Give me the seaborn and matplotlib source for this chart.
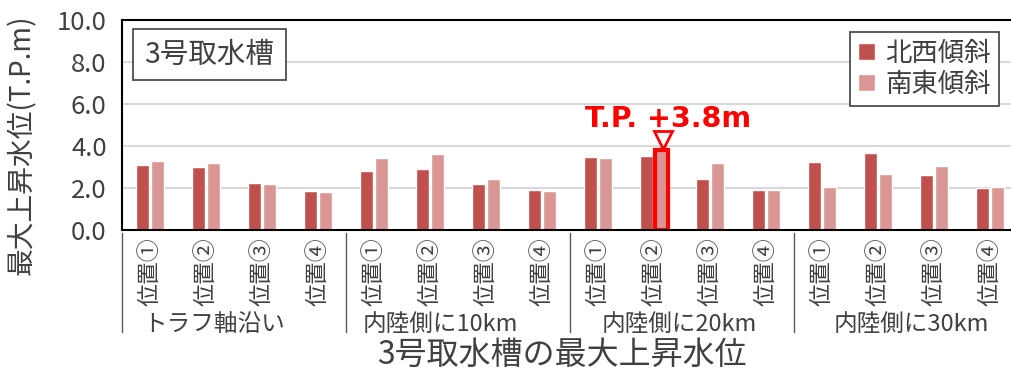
import matplotlib
matplotlib.use("Agg")
import matplotlib.pyplot as plt
import matplotlib.transforms as mtransforms
from matplotlib.patches import Rectangle
import numpy as np
import pandas as pd
import seaborn as sns

# --- data -------------------------------------------------------------
groups = ["トラフ軸沿い", "内陸側に10km", "内陸側に20km", "内陸側に30km"]
positions = ["位置①", "位置②", "位置③", "位置④"]
series = ["北西傾斜", "南東傾斜"]
nw_values = [3.07, 2.96, 2.20, 1.82,
             2.80, 2.87, 2.18, 1.90,
             3.44, 3.50, 2.39, 1.87,
             3.21, 3.66, 2.60, 1.98]
se_values = [3.26, 3.15, 2.17, 1.77,
             3.40, 3.60, 2.39, 1.83,
             3.39, 3.80, 3.15, 1.88,
             2.02, 2.64, 3.02, 2.01]
y_ticks = [0.0, 2.0, 4.0, 6.0, 8.0, 10.0]
highlight_group, highlight_pos, highlight_series = "内陸側に20km", "位置②", "南東傾斜"
highlight_label = "T.P. +3.8m"
panel_title = "3号取水槽"
y_label = "最大上昇水位(T.P.m)"
x_title = "3号取水槽の最大上昇水位"

colors = ["#C0504D", "#D99694"]
text_color = "#404040"

# --- table ------------------------------------------------------------
slots = [f"{g}|{p}" for g in groups for p in positions]
df = pd.DataFrame({
    "slot": slots * 2,
    "series": [series[0]] * len(slots) + [series[1]] * len(slots),
    "value": nw_values + se_values,
})

sns.set_style("white")
plt.rcParams["font.family"] = ["Noto Sans CJK JP", "DejaVu Sans"]

W, H = 1011, 372
fig = plt.figure(figsize=(W / 100, H / 100), dpi=100)
ax_left, ax_right, ax_top, ax_bottom = 122, 1018, 19.5, 229.5
ax = fig.add_axes([ax_left / W, 1 - ax_bottom / H,
                   (ax_right - ax_left) / W, (ax_bottom - ax_top) / H])

sns.barplot(data=df, x="slot", y="value", hue="series", order=slots,
            hue_order=series, palette=colors, width=0.54, gap=0.1,
            saturation=1, ax=ax, legend=True)

ax.set_xlim(-0.5, len(slots) - 0.5)
ax.set_ylim(0, 10)
ax.set_yticks(y_ticks)
ax.set_yticklabels([f"{t:.1f}" for t in y_ticks])
ax.yaxis.grid(True, color="#D9D9D9", linewidth=1.5)
ax.set_axisbelow(True)
for side in ["left", "bottom", "top"]:
    ax.spines[side].set_color("black")
    ax.spines[side].set_linewidth(1.5)
ax.spines["right"].set_visible(False)
ax.tick_params(axis="y", length=0, pad=11, labelsize=18.5, labelcolor=text_color)
ax.tick_params(axis="x", length=0, pad=6, labelsize=16.5, labelcolor=text_color)
ax.set_xticks(range(len(slots)))
ax.set_xticklabels([s.split("|")[1] for s in slots], rotation=90, va="top")
ax.set_xlabel("")
ax.set_ylabel("")

# group separators and group names below the tick labels
sep_tr = mtransforms.blended_transform_factory(ax.transData, ax.transAxes)
for k in range(len(groups) + 1):
    xb = k * len(positions) - 0.5
    ax.plot([xb, xb], [-0.017, -0.488], color="#595959", lw=1.0,
            transform=sep_tr, clip_on=False)
group_shift = [-0.36, -0.32, -0.05, 0.10]
for k, g in enumerate(groups):
    xc = k * len(positions) + (len(positions) - 1) / 2 + group_shift[k]
    ax.text(xc, -0.452, g, transform=sep_tr, ha="center", va="center",
            fontsize=17, color=text_color)

# highlighted bar with marker and label
hi = slots.index(f"{highlight_group}|{highlight_pos}")
bar = ax.containers[series.index(highlight_series)][hi]
bar.set_edgecolor("#FF0000")
bar.set_linewidth(3)
hx = bar.get_x() + bar.get_width() / 2
hv = bar.get_height()
ax.plot([hx + 0.03], [hv + 0.45], marker="v", ms=13, mfc="white",
        mec="#FF0000", mew=2, clip_on=False)
ax.text(hx + 0.12, hv + 1.45, highlight_label, ha="center", va="center",
        fontsize=20.5, fontweight="bold", color="#FF0000",
        family=["DejaVu Sans"])

# panel title box
ax.add_patch(Rectangle((11 / 896, 149.5 / 210), 153 / 896, 51 / 210,
                       transform=ax.transAxes, fill=True, facecolor="white",
                       edgecolor=text_color, lw=1.2, zorder=5))
ax.text((11 + 76.5) / 896, (149.5 + 25.5) / 210, panel_title,
        transform=ax.transAxes, ha="center", va="center", fontsize=20.5,
        color=text_color, zorder=6)

# legend
handles, labels = ax.get_legend_handles_labels()
ax.legend(handles, labels, loc="upper right",
          bbox_to_anchor=(999 / W, 1 - 32 / H), bbox_transform=fig.transFigure,
          fontsize=19, frameon=True, fancybox=False, framealpha=1,
          edgecolor=text_color, handlelength=0.65, handleheight=0.65,
          handletextpad=0.4, labelspacing=0.15, borderpad=0.3,
          borderaxespad=0, labelcolor=text_color)
ax.get_legend().get_frame().set_linewidth(1.2)

# axis titles
fig.text(22 / W, 1 - 145 / H, y_label, rotation=90, ha="center",
         va="center", fontsize=20, color=text_color)
fig.text(562 / W, 1 - 355 / H, x_title, ha="center", va="center",
         fontsize=23, color=text_color)

fig.savefig("out.png", dpi=100)
